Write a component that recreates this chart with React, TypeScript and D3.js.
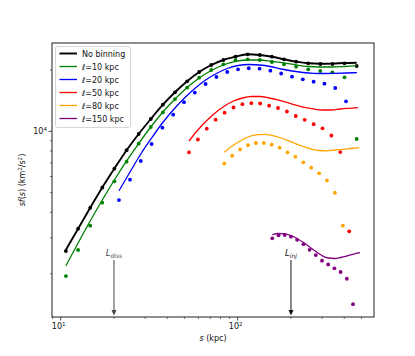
import React from 'react';
import * as d3 from 'd3';

// ---------- data ----------
const blackS = [10.70, 12.54, 14.68, 17.18, 20.11, 23.57, 27.58, 32.28, 37.79, 44.24, 51.78, 60.61, 70.94, 83.05, 97.19, 113.9, 133.3, 156.1, 182.6, 213.8, 250.2, 292.9, 342.8, 401.2, 470.2];
const blackPts = [2585, 3325, 4215, 5298, 6559, 8077, 9700, 11492, 13506, 15540, 17600, 19550, 21160, 22390, 23240, 23880, 23690, 23240, 22570, 21970, 21570, 21400, 21400, 21570, 20920];
const blackLine = [2620, 3325, 4215, 5298, 6559, 8077, 9700, 11492, 13506, 15540, 17600, 19550, 21160, 22390, 23240, 23880, 23690, 23240, 22570, 21970, 21570, 21450, 21500, 21650, 21720];

const greenPts = [1948, 2615, 3440, 4462, 5682, 7094, 8693, 10500, 12397, 14400, 16370, 18330, 19990, 21330, 22320, 22570, 22390, 21890, 21330, 20760, 20150, 19770, 19480, 18410, 9167];
const greenLine = [2189, 2829, 3628, 4599, 5766, 7150, 8711, 10500, 12437, 14400, 16410, 18270, 19880, 21160, 22020, 22390, 22390, 22020, 21650, 21160, 20800, 20690, 20690, 20800, 20990];

const blueS = [21.35, 24.64, 28.35, 32.63, 37.55, 43.21, 49.74, 57.24, 65.87, 75.81, 87.25, 100.4, 115.5, 133.0, 153.0, 176.1, 202.7, 233.3, 268.5, 309.0, 355.6, 409.3];
const bluePts = [4599, 5786, 7150, 8664, 10415, 12063, 13897, 15500, 17070, 18470, 19550, 20150, 20390, 20290, 19840, 19220, 18540, 18000, 17520, 17130, 16310, 14040];
const blueLineS = [...blueS, 472];
const blueLine = [5109, 6313, 7738, 9271, 10983, 12720, 14490, 16230, 17860, 19220, 20340, 21040, 21280, 21160, 20800, 20220, 19770, 19440, 19260, 19220, 19260, 19330, 19400];

const redS = [53.07, 59.59, 66.89, 75.10, 84.33, 94.69, 106.3, 119.4, 134.0, 150.5, 168.9, 189.7, 212.9, 239.1, 268.5, 301.4, 338.4, 379.9, 426.6];
const redPts = [7888, 9114, 10299, 11400, 12340, 13086, 13583, 13740, 13690, 13360, 13010, 12510, 11890, 11390, 10837, 10345, 9537, 7912, 3229];
const redLineS = [...redS, 478];
const redLine = [8963, 10148, 11297, 12370, 13310, 14085, 14570, 14820, 14820, 14570, 14250, 13850, 13460, 13090, 12870, 12720, 12720, 12870, 12970, 13060];

const orangeS = [84.0, 93.1, 103.2, 114.3, 126.7, 140.4, 155.6, 172.5, 191.2, 211.8, 234.8, 260.2, 288.4, 319.5, 354.2, 392.5];
const orangePts = [6950, 7590, 8142, 8547, 8762, 8762, 8595, 8308, 7888, 7505, 7044, 6627, 6220, 5735, 4994, 3440];
const orangeLineS = [...orangeS, 436.6, 486.4];
const orangeLine = [7888, 8469, 8963, 9376, 9612, 9667, 9558, 9324, 9033, 8711, 8421, 8186, 8049, 8022, 8095, 8159, 8233, 8308];

const purpleS = [156.9, 170.1, 184.3, 199.8, 216.6, 235.0, 254.8, 276.2, 299.5, 324.6, 351.8, 381.4, 413.5, 448.2];
const purplePts = [2984, 3087, 3097, 3039, 2934, 2791, 2620, 2470, 2316, 2219, 2126, 2039, 1889, 1417];
const purpleLineS = [...purpleS, 490.9];
const purpleLine = [3114, 3150, 3139, 3080, 2977, 2845, 2704, 2570, 2456, 2388, 2375, 2402, 2443, 2491, 2535];

const legendLabels = ['No binning', '10 kpc', '20 kpc', '50 kpc', '80 kpc', '150 kpc'];
const legendColors = ['black', 'green', 'blue', 'red', 'orange', 'purple'];

const xMajor = [10, 100];
const xMinor = [9, 20, 30, 40, 50, 60, 70, 80, 90, 200, 300, 400, 500];
const yMajor = [10000];
const yMinor = [2000, 3000, 4000, 5000, 6000, 7000, 8000, 9000, 20000];

const Ldiss = 20;
const Linj = 200;

// ---------- layout ----------
const W = 415, H = 356;
const L = 52, R = 374, T = 43, B = 317;

export default function App() {
  const x = d3.scaleLog().domain([8.93, 589]).range([L, R]);
  const y = d3.scaleLog().domain([1226, 27130]).range([B, T]);
  const line = (xs: number[], ys: number[]) =>
    d3.line<number>().x((_, i) => x(xs[i])).y((v) => y(v)).curve(d3.curveMonotoneX)(ys) || '';

  const series = [
    { xs: blackS, pts: blackPts, lxs: blackS, lys: blackLine, c: 'black', w: 1.9 },
    { xs: blackS, pts: greenPts, lxs: blackS, lys: greenLine, c: 'green', w: 1.3 },
    { xs: blueS, pts: bluePts, lxs: blueLineS, lys: blueLine, c: 'blue', w: 1.3 },
    { xs: redS, pts: redPts, lxs: redLineS, lys: redLine, c: 'red', w: 1.3 },
    { xs: orangeS, pts: orangePts, lxs: orangeLineS, lys: orangeLine, c: 'orange', w: 1.3 },
    { xs: purpleS, pts: purplePts, lxs: purpleLineS, lys: purpleLine, c: 'purple', w: 1.3 },
  ];
  const font = 'DejaVu Sans, sans-serif';
  const axisCol = '#333';

  return (
    <svg width={W} height={H} style={{ position: 'absolute', left: 0, top: 0, background: 'white' }} fontFamily={font}>
      {/* series */}
      {series.map((s, k) => (
        <g key={k}>
          <path d={line(s.lxs, s.lys)} fill="none" stroke={s.c} strokeWidth={s.w} />
          {s.pts.map((v, i) => (
            <circle key={i} cx={x(s.xs[i])} cy={y(v)} r={1.9} fill={s.c} />
          ))}
        </g>
      ))}

      {/* annotations */}
      {[{ v: Ldiss, sub: 'diss', col: '#444' }, { v: Linj, sub: 'inj', col: '#111' }].map((a, i) => (
        <g key={i}>
          <text x={x(a.v)} y={256} textAnchor="middle" fontSize={8.5} fontStyle="italic" fill={a.col}>
            L<tspan fontSize={6} dy={2}>{a.sub}</tspan>
          </text>
          <line x1={x(a.v)} x2={x(a.v)} y1={260} y2={312} stroke={a.col} strokeWidth={1} />
          <path d={`M${x(a.v) - 2.5},${310} L${x(a.v) + 2.5},${310} L${x(a.v)},${315.5} Z`} fill={a.col} />
        </g>
      ))}

      {/* frame */}
      <rect x={L} y={T} width={R - L} height={B - T} fill="none" stroke={axisCol} strokeWidth={1.1} />

      {/* x ticks */}
      {xMajor.map((t) => (
        <g key={'xM' + t}>
          <line x1={x(t)} x2={x(t)} y1={B} y2={B + 3.5} stroke={axisCol} strokeWidth={0.9} />
          <text x={x(t) - 2} y={B + 12} textAnchor="middle" fontSize={8} fill="#111">
            10<tspan fontSize={5.6} dy={-3.5}>{Math.round(Math.log10(t))}</tspan>
          </text>
        </g>
      ))}
      {xMinor.filter((t) => x(t) >= L && x(t) <= R).map((t) => (
        <line key={'xm' + t} x1={x(t)} x2={x(t)} y1={B} y2={B + 2} stroke={axisCol} strokeWidth={0.7} />
      ))}
      {/* y ticks */}
      {yMajor.map((t) => (
        <g key={'yM' + t}>
          <line x1={L - 3.5} x2={L} y1={y(t)} y2={y(t)} stroke={axisCol} strokeWidth={0.9} />
          <text x={L - 5} y={y(t) + 3} textAnchor="end" fontSize={8} fill="#111">
            10<tspan fontSize={5.6} dy={-3.5}>{Math.round(Math.log10(t))}</tspan>
          </text>
        </g>
      ))}
      {yMinor.map((t) => (
        <line key={'ym' + t} x1={L - 2} x2={L} y1={y(t)} y2={y(t)} stroke={axisCol} strokeWidth={0.7} />
      ))}

      {/* axis labels */}
      <text x={(L + R) / 2} y={341} textAnchor="middle" fontSize={8} fill="#111">
        <tspan fontStyle="italic">s</tspan> (kpc)
      </text>
      <text transform={`translate(25,${(T + B) / 2}) rotate(-90)`} textAnchor="middle" fontSize={8} fill="#111">
        <tspan fontStyle="italic">sf</tspan>(<tspan fontStyle="italic">s</tspan>) (km<tspan fontSize={5.6} dy={-3}>2</tspan><tspan dy={3}>/s</tspan><tspan fontSize={5.6} dy={-3}>2</tspan><tspan dy={3}>)</tspan>
      </text>

      {/* legend */}
      <rect x={55.5} y={46.5} width={75} height={81} rx={2} fill="white" fillOpacity={0.8} stroke="#ccc" strokeWidth={0.8} />
      {legendLabels.map((lab, i) => {
        const ly = 53.5 + i * 13;
        return (
          <g key={lab}>
            <line x1={59.5} x2={77} y1={ly} y2={ly} stroke={legendColors[i]} strokeWidth={i === 0 ? 1.9 : 1.3} />
            <text x={82} y={ly + 3} fontSize={8} fill="#111">
              {i === 0 ? lab : (<><tspan fontStyle="italic">ℓ</tspan>={lab}</>)}
            </text>
          </g>
        );
      })}
    </svg>
  );
}
